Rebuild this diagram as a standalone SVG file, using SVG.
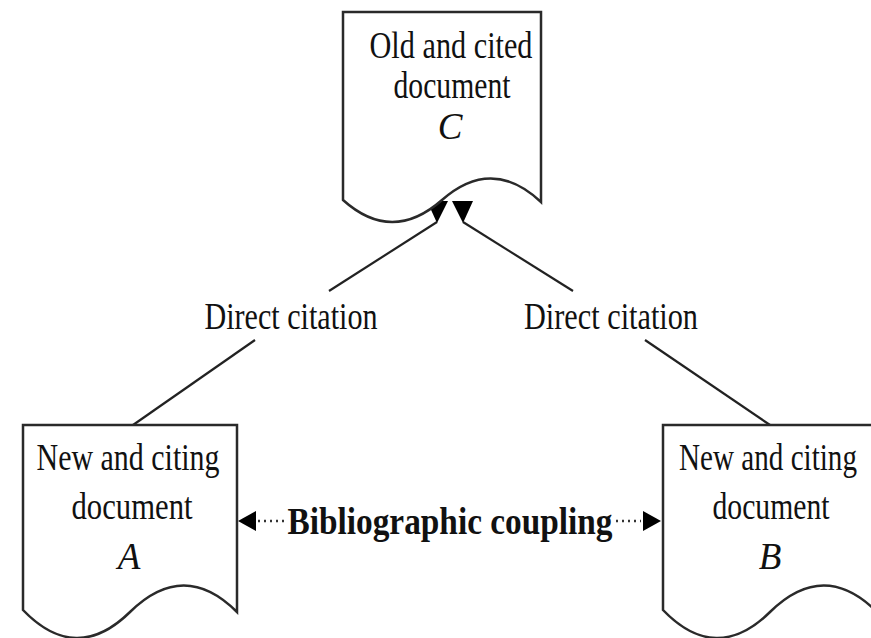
<svg xmlns="http://www.w3.org/2000/svg" width="871" height="638" viewBox="0 0 871 638">
<style>
.doc{fill:#fff;stroke:#2a2a2a;stroke-width:2.5}
.t{font-family:"Liberation Serif","Times New Roman",serif;font-size:37px;fill:#111;text-anchor:middle}
.i{font-style:italic}
.b{font-weight:bold;font-size:38px}
.ln{stroke:#222;stroke-width:2.2;fill:none}
.dot{stroke:#333;stroke-width:2.5;stroke-dasharray:2 4;fill:none}
.ah{fill:#000}
</style>
<rect width="871" height="638" fill="#fff"/>
<g id="connectors">
<line class="ln" x1="437" y1="222" x2="329" y2="291"/>
<line class="ln" x1="255" y1="340" x2="133" y2="425"/>
<line class="ln" x1="463" y1="222" x2="573" y2="291"/>
<line class="ln" x1="645" y1="340" x2="770" y2="425"/>
<polygon class="ah" points="427,201 448,201 437,223"/>
<polygon class="ah" points="452,201 473,201 463,223"/>
<line class="dot" x1="258" y1="521" x2="287" y2="521"/>
<line class="dot" x1="616" y1="521" x2="641" y2="521"/>
<polygon class="ah" points="238,521 256,511 256,531"/>
<polygon class="ah" points="661,521 643,511 643,531"/>
<text class="t" x="291" y="329" textLength="173" lengthAdjust="spacingAndGlyphs">Direct citation</text>
<text class="t" x="611" y="329" textLength="174" lengthAdjust="spacingAndGlyphs">Direct citation</text>
<text class="t b" x="450" y="534" textLength="325" lengthAdjust="spacingAndGlyphs">Bibliographic coupling</text>
</g>
<g id="nodeC">
<path class="doc" d="M343,12 H541 V202 Q492,156 442,200 Q392,244 343,200 Z"/>
<text class="t" x="451" y="58" textLength="163" lengthAdjust="spacingAndGlyphs">Old and cited</text>
<text class="t" x="452" y="98" textLength="117" lengthAdjust="spacingAndGlyphs">document</text>
<text class="t i" x="450" y="139">C</text>
</g>
<g id="nodeA">
<path class="doc" d="M23,425 H237 V612 Q184,559 130,612 Q76,665 23,610 Z"/>
<text class="t" x="128" y="470" textLength="183" lengthAdjust="spacingAndGlyphs">New and citing</text>
<text class="t" x="132" y="519" textLength="121" lengthAdjust="spacingAndGlyphs">document</text>
<text class="t i" x="129" y="569">A</text>
</g>
<g id="nodeB">
<path class="doc" d="M663,425 H877 V612 Q824,559 770,612 Q716,665 663,610 Z"/>
<text class="t" x="768" y="470" textLength="178" lengthAdjust="spacingAndGlyphs">New and citing</text>
<text class="t" x="771" y="519" textLength="117" lengthAdjust="spacingAndGlyphs">document</text>
<text class="t i" x="770" y="569">B</text>
</g>
</svg>
